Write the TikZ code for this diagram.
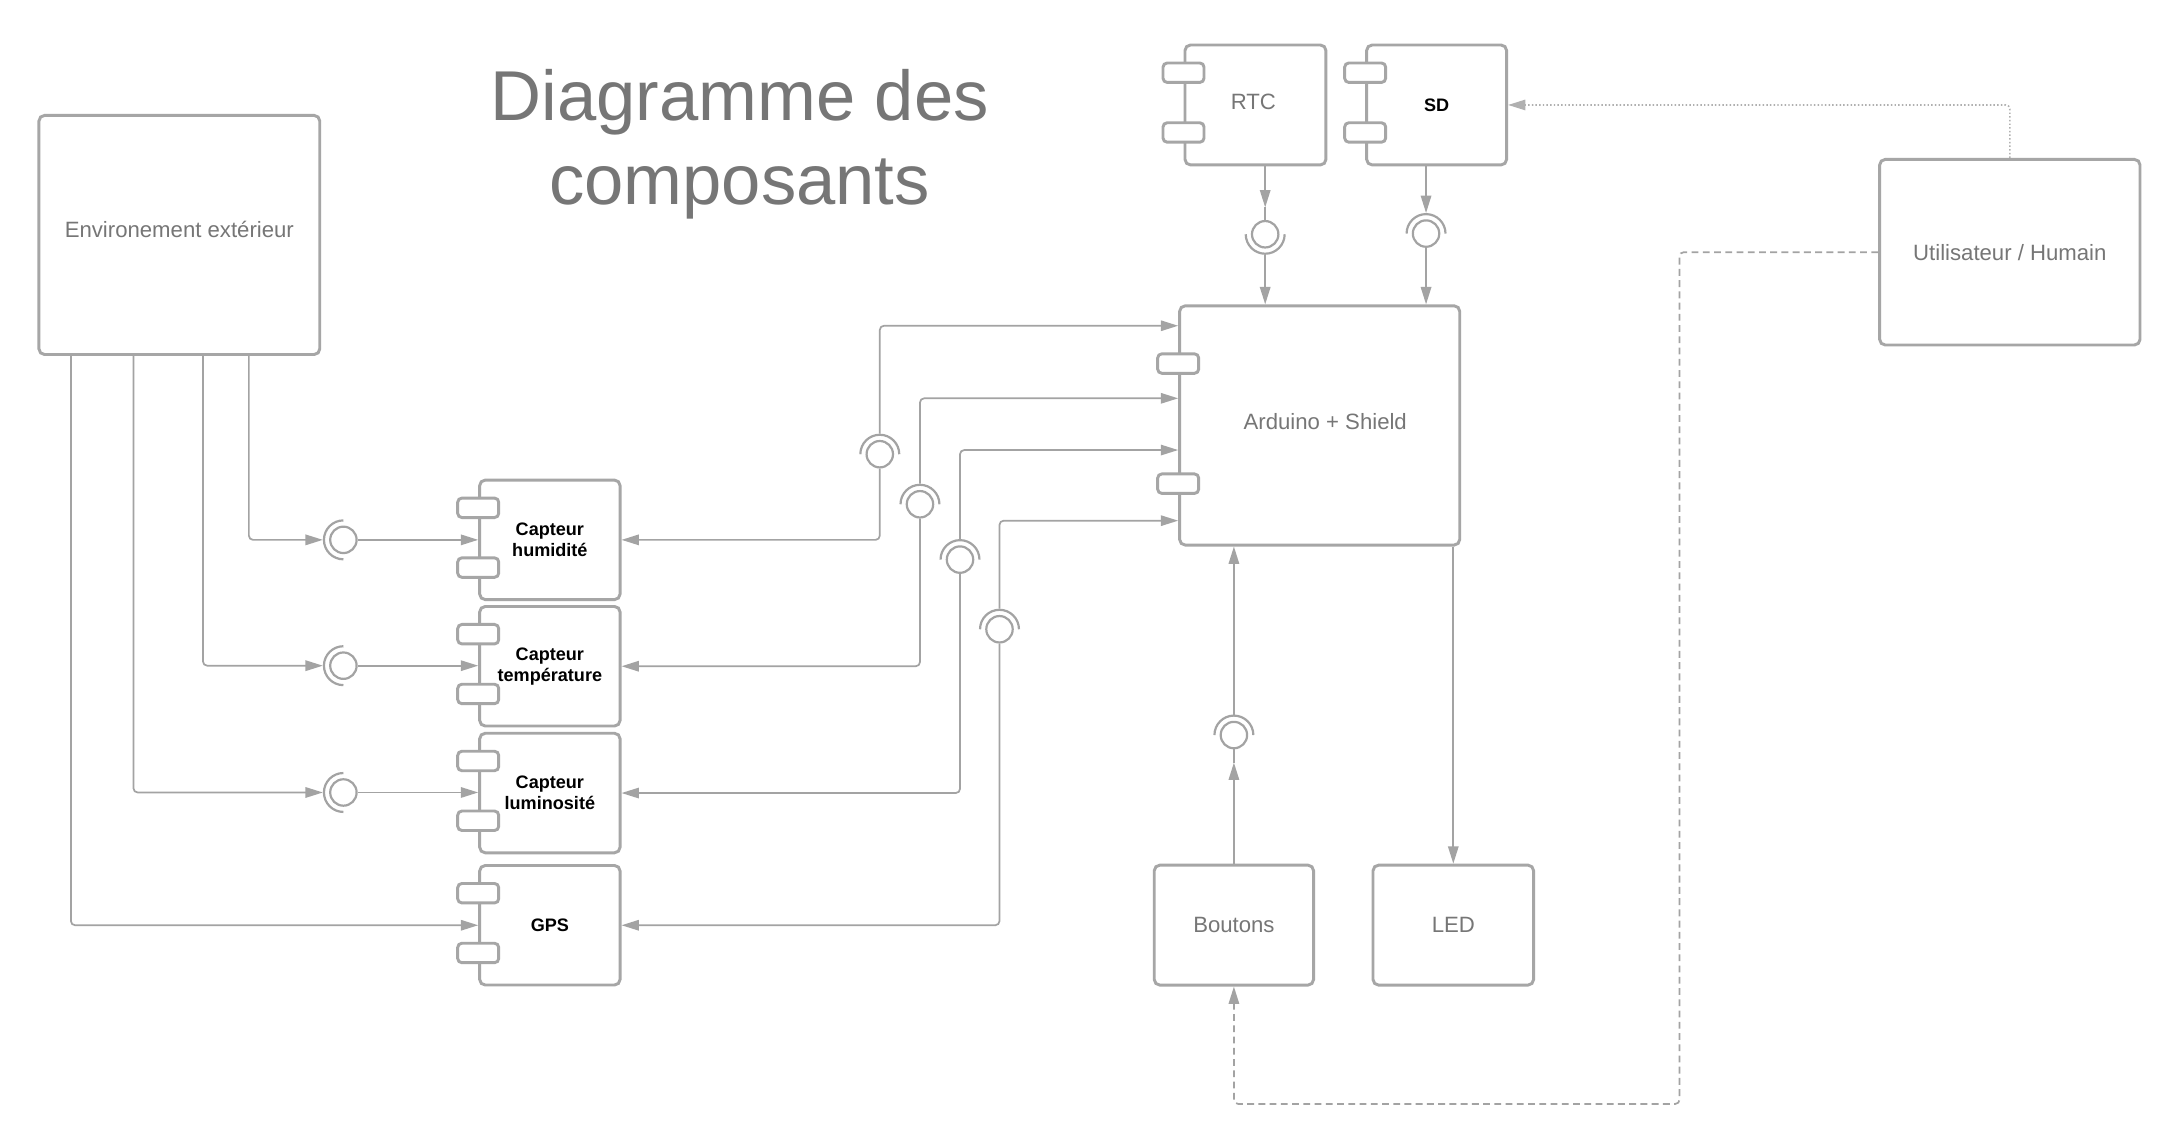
\documentclass[tikz,border=0pt]{standalone}
\usepackage{fontspec}
\setmainfont{Liberation Sans}
\usetikzlibrary{arrows.meta}
\definecolor{lc}{HTML}{A3A3A3}
\definecolor{bc}{HTML}{A6A6A6}
\definecolor{tc}{HTML}{767676}
\definecolor{dc}{HTML}{B0B0B0}
\begin{document}
\begin{tikzpicture}[x=0.02cm,y=0.02cm,
 box/.style={draw=bc, line width=1.2pt, rounded corners=0.08cm, fill=white, inner sep=0pt,
   font=\fontsize{9.07}{11}\selectfont, text=tc, align=center},
 lbl/.style={font=\fontsize{9.07}{11}\selectfont, text=tc, inner sep=0pt},
 port/.style={draw=bc, line width=1.2pt, rounded corners=0.06cm, fill=white,
   minimum width=0.59cm, minimum height=0.28cm, inner sep=0pt},
 sock/.style={circle, draw=lc, line width=0.9pt, minimum size=0.38cm, inner sep=0pt, fill=white},
 arcst/.style={draw=lc, line width=0.9pt},
 conn/.style={draw=lc, line width=0.7pt, rounded corners=0.06cm},
 arr/.style={-{Triangle[length=0.25cm,width=0.15cm]}},
 bl/.style={font=\fontsize{7.4}{8.5}\selectfont\bfseries, text=black},
 dotst/.style={draw=dc, dash pattern=on 0.6pt off 0.9pt},
 dashst/.style={draw=lc, dash pattern=on 2.8pt off 1.8pt},
 ttl/.style={font=\fontsize{28.9}{34}\selectfont, text=tc, anchor=base, inner sep=0pt},
]
\useasboundingbox (0,0) rectangle (1568,-824);
\fill[white] (0,0) rectangle (1568,-824);

% title
\node[ttl] (t1) at (532,-87) {Diagramme des};
\node[ttl] (t2) at (532,-147) {composants};

% boxes
\node[box, minimum width=4.04cm, minimum height=3.44cm,
  label={[lbl, yshift=0.08cm]center:Environement extérieur}] (env) at (129,-169) {};
\node[box, minimum width=2.028cm, minimum height=1.726cm,
  label={[lbl, xshift=-0.03cm, yshift=0.04cm]center:RTC}] (rtc) at (903,-75.5) {};
\node[box, bl, minimum width=2.014cm, minimum height=1.726cm] (sd) at (1033.3,-75.5) {SD};
\node[box, minimum width=4.03cm, minimum height=3.442cm,
  label={[lbl, xshift=0.08cm, yshift=0.06cm]center:Arduino + Shield}] (ard) at (949.2,-306) {};
\node[box, minimum width=3.746cm, minimum height=2.67cm] (user) at (1445.6,-181.4) {Utilisateur / Humain};
\node[box, bl, minimum width=2.02cm, minimum height=1.72cm] (hum) at (395.5,-388.3) {Capteur\\humidité};
\node[box, bl, minimum width=2.02cm, minimum height=1.72cm] (temp) at (395.5,-479.2) {Capteur\\température};
\node[box, bl, minimum width=2.02cm, minimum height=1.72cm] (lum) at (395.5,-570.4) {Capteur\\luminosité};
\node[box, bl, minimum width=2.02cm, minimum height=1.72cm] (gps) at (395.5,-665.5) {GPS};
\node[box, minimum width=2.292cm, minimum height=1.726cm] (btn) at (887.5,-665.4) {Boutons};
\node[box, minimum width=2.31cm, minimum height=1.726cm] (led) at (1045.3,-665.4) {LED};

% ports
\foreach \c in {rtc,sd,hum,temp,lum,gps}{
  \node[port] (\c-p1) at ([yshift=-0.42cm]\c.north west) {};
  \node[port] (\c-p2) at ([yshift=-1.28cm]\c.north west) {};
}
\node[port] (ard-p1) at ([yshift=-0.852cm]ard.north west) {};
\node[port] (ard-p2) at ([yshift=-2.58cm]ard.north west) {};

% sockets
\node[sock] (s1) at (247,-388.3) {};
\node[sock] (s2) at (247,-478.8) {};
\node[sock] (s3) at (247,-570) {};
\node[sock] (sv1) at (632.8,-326.7) {};
\node[sock] (sv2) at (661.7,-362.7) {};
\node[sock] (sv3) at (690.5,-402.5) {};
\node[sock] (sv4) at (718.9,-452.6) {};
\node[sock] (srtc) at (910,-168.5) {};
\node[sock] (ssd) at (1025.7,-168) {};
\node[sock] (sbtn) at (887.5,-528.7) {};

\foreach \s in {s1,s2,s3}{
  \draw[arcst] (\s.center) ++(90:0.28cm) arc[start angle=90,end angle=270,radius=0.28cm];
}
\foreach \s in {sv1,sv2,sv3,sv4,ssd,sbtn}{
  \draw[arcst] (\s.center) ++(0:0.28cm) arc[start angle=0,end angle=180,radius=0.28cm];
}
\draw[arcst] (srtc.center) ++(180:0.28cm) arc[start angle=180,end angle=360,radius=0.28cm];

% environment to sensors
\draw[conn,arr] (179,0 |- env.south) |- ([xshift=-0.09cm]s1.west);
\draw[conn,arr] (146,0 |- env.south) |- ([xshift=-0.09cm]s2.west);
\draw[conn,arr] (96,0 |- env.south) |- ([xshift=-0.09cm]s3.west);
\draw[conn,arr] (51,0 |- env.south) |- (gps.west);
\draw[conn,arr] (s1.east) -- (s1.east -| hum.west);
\draw[conn,arr] (s2.east) -- (s2.east -| temp.west);
\draw[conn,arr] (s3.east) -- (s3.east -| lum.west);

% arduino to sensors
\draw[conn,arr] ([yshift=0.09cm]sv1.north) |- (0,-234.3 -| ard.west);
\draw[conn,arr] ([yshift=0.09cm]sv2.north) |- (0,-286.5 -| ard.west);
\draw[conn,arr] ([yshift=0.09cm]sv3.north) |- (0,-323.7 -| ard.west);
\draw[conn,arr] ([yshift=0.09cm]sv4.north) |- (0,-374.5 -| ard.west);
\draw[conn,arr] (sv1.south) |- (hum.east);
\draw[conn,arr] (sv2.south) |- (temp.east);
\draw[conn,arr] (sv3.south) |- (lum.east);
\draw[conn,arr] (sv4.south) |- (gps.east);

% RTC
\draw[conn] (srtc.north) -- ([yshift=0.18cm]srtc.north);
\draw[conn,arr] (srtc |- rtc.south) -- ([yshift=0.18cm]srtc.north);
\draw[conn,arr] ([yshift=-0.09cm]srtc.south) -- (srtc |- ard.north);

% SD
\draw[conn,arr] (ssd |- sd.south) -- ([yshift=0.09cm]ssd.north);
\draw[conn,arr] (ssd.south) -- (ssd |- ard.north);

% Boutons
\draw[conn] (sbtn.south) -- ([yshift=-0.19cm]sbtn.south);
\draw[conn,arr] (btn.north -| sbtn) -- ([yshift=-0.19cm]sbtn.south);
\draw[conn,arr] ([yshift=0.09cm]sbtn.north) -- (sbtn |- ard.south);

% LED
\draw[conn,arr] (led.north |- ard.south) -- (led.north);

% user
\draw[conn,dotst,arr] (user.north) |- (sd.east);
\coordinate (bend) at (1208,-794);
\draw[conn,dashst,arr] (user.west) -| (bend) -| (btn.south);
\end{tikzpicture}
\end{document}
